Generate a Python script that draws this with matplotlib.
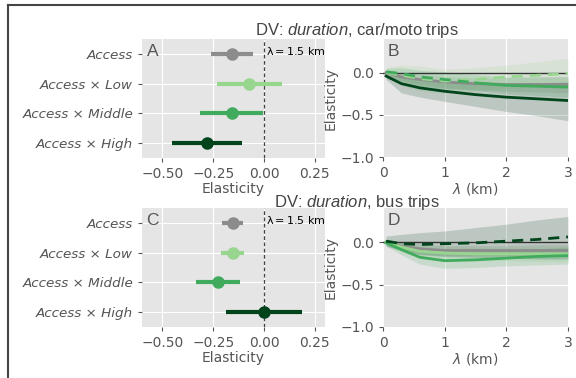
import numpy as np
import matplotlib
matplotlib.use("Agg")
import matplotlib.pyplot as plt
from matplotlib.lines import Line2D

# ---------------- data ----------------
categories = ["Access", "Access × Low", "Access × Middle", "Access × High"]
colors = ["#8c8c8c", "#98d68f", "#41ab5d", "#00441b"]

# Panel A (car/moto, lambda = 1.5 km)
a_est = [-0.158, -0.072, -0.158, -0.281]
a_lo = [-0.261, -0.229, -0.314, -0.452]
a_hi = [-0.055, 0.087, -0.006, -0.109]

# Panel C (bus, lambda = 1.5 km)
c_est = [-0.153, -0.153, -0.224, 0.0]
c_lo = [-0.207, -0.212, -0.333, -0.188]
c_hi = [-0.101, -0.098, -0.118, 0.185]

lam = [0.05, 0.3, 0.6, 1.0, 1.5, 2.0, 2.5, 3.0]

# Panel B (car/moto) curves
b_access_est = [0.0, -0.05, -0.08, -0.11, -0.13, -0.14, -0.14, -0.14]
b_access_lo = [-0.04, -0.10, -0.14, -0.18, -0.20, -0.22, -0.23, -0.24]
b_access_hi = [0.04, 0.0, -0.02, -0.04, -0.06, -0.06, -0.05, -0.04]
b_access_sig = [1, 1, 1, 1, 1, 1, 1, 1]

b_low_est = [0.0, -0.03, -0.07, -0.10, -0.08, -0.05, -0.03, -0.01]
b_low_lo = [-0.06, -0.15, -0.22, -0.24, -0.22, -0.19, -0.18, -0.19]
b_low_hi = [0.06, 0.09, 0.08, 0.04, 0.06, 0.09, 0.13, 0.17]
b_low_sig = [0, 0, 0, 0, 0, 0, 0, 0]

b_mid_est = [0.01, -0.01, -0.05, -0.08, -0.12, -0.15, -0.16, -0.17]
b_mid_lo = [-0.03, -0.10, -0.16, -0.19, -0.21, -0.25, -0.27, -0.29]
b_mid_hi = [0.05, 0.06, 0.03, 0.01, -0.02, -0.05, -0.05, -0.05]
b_mid_sig = [0, 0, 0, 0, 1, 1, 1, 1]

b_high_est = [-0.04, -0.13, -0.18, -0.22, -0.26, -0.29, -0.31, -0.33]
b_high_lo = [-0.08, -0.24, -0.29, -0.34, -0.40, -0.46, -0.51, -0.57]
b_high_hi = [-0.01, -0.05, -0.08, -0.10, -0.12, -0.13, -0.12, -0.11]
b_high_sig = [1, 1, 1, 1, 1, 1, 1, 1]

# Panel D (bus) curves
d_access_est = [-0.01, -0.05, -0.08, -0.10, -0.10, -0.10, -0.10, -0.10]
d_access_lo = [-0.04, -0.10, -0.14, -0.16, -0.16, -0.16, -0.17, -0.17]
d_access_hi = [0.02, 0.0, -0.02, -0.04, -0.04, -0.04, -0.03, -0.03]
d_access_sig = [1, 1, 1, 1, 1, 1, 1, 1]

d_low_est = [0.0, -0.06, -0.11, -0.13, -0.14, -0.14, -0.14, -0.14]
d_low_lo = [-0.04, -0.12, -0.18, -0.21, -0.22, -0.22, -0.23, -0.23]
d_low_hi = [0.04, 0.0, -0.04, -0.05, -0.06, -0.06, -0.05, -0.05]
d_low_sig = [1, 1, 1, 1, 1, 1, 1, 1]

d_mid_est = [-0.01, -0.09, -0.18, -0.22, -0.21, -0.19, -0.17, -0.16]
d_mid_lo = [-0.05, -0.15, -0.26, -0.31, -0.30, -0.28, -0.27, -0.26]
d_mid_hi = [0.03, -0.03, -0.10, -0.13, -0.12, -0.10, -0.08, -0.06]
d_mid_sig = [1, 1, 1, 1, 1, 1, 1, 1]

d_high_est = [0.01, -0.02, -0.03, -0.02, -0.01, 0.01, 0.03, 0.06]
d_high_lo = [-0.05, -0.10, -0.15, -0.17, -0.18, -0.19, -0.20, -0.20]
d_high_hi = [0.07, 0.09, 0.11, 0.13, 0.17, 0.21, 0.26, 0.30]
d_high_sig = [0, 0, 0, 0, 0, 0, 0, 0]

titles = ["car/moto trips", "bus trips"]
panel_letters = ["A", "B", "C", "D"]

# ---------------- style ----------------
plt.style.use("ggplot")
plt.rcParams["font.family"] = ["DejaVu Sans"]
plt.rcParams["mathtext.fontset"] = "dejavusans"
plt.rcParams["mathtext.rm"] = "Liberation Sans"
plt.rcParams["mathtext.it"] = "Liberation Sans:italic"
plt.rcParams["mathtext.bf"] = "Liberation Sans:bold"
GRAY = "#555555"

fig = plt.figure(figsize=(5.76, 3.78), dpi=100)
fig.patch.set_facecolor("white")

W, H = 576.0, 378.0
def ax_rect(l, r, t, b):
    return [l / W, 1 - b / H, (r - l) / W, (b - t) / H]

axA = fig.add_axes(ax_rect(142, 325, 39, 158))
axB = fig.add_axes(ax_rect(383, 568, 39, 157))
axC = fig.add_axes(ax_rect(142, 325, 208, 327))
axD = fig.add_axes(ax_rect(383, 568, 208, 327))


def style_ax(ax):
    ax.set_facecolor("#E5E5E5")
    ax.grid(True, color="white", lw=0.8)
    for s in ax.spines.values():
        s.set_visible(False)
    ax.tick_params(colors=GRAY, labelsize=10, length=3, width=0.8)


def coef_panel(ax, est, lo, hi, letter):
    style_ax(ax)
    y = np.arange(len(categories))
    for i in range(len(categories)):
        ax.plot([lo[i], hi[i]], [y[i], y[i]], color=colors[i], lw=3,
                solid_capstyle="butt", zorder=3)
        ax.plot(est[i], y[i], "o", color=colors[i], ms=8, zorder=4)
    ax.axvline(0, color="#444444", lw=0.9, ls=(0, (3, 2)), zorder=2)
    ax.set_xlim(-0.6, 0.3)
    ax.set_ylim(3.5, -0.5)
    ax.set_yticks(y)
    ax.set_yticklabels(categories, fontstyle="italic", fontsize=9.7)
    ax.set_xticks([-0.5, -0.25, 0.0, 0.25])
    ax.set_xticklabels(["−0.50", "−0.25", "0.00", "0.25"])
    ax.set_xlabel("Elasticity", color=GRAY, fontsize=10, labelpad=1)
    ax.text(0.025, 0.96, letter, transform=ax.transAxes, ha="left", va="top",
            color=GRAY, fontsize=12.5, family="Liberation Sans")
    ax.text(0.008, 0.95, r"$\mathregular{\lambda = 1.5}$ km",
            transform=ax.get_xaxis_transform(), ha="left", va="top",
            fontsize=8, color="black")


def draw_curve(ax, x, est, lo, hi, sig, color):
    x = np.asarray(x); est = np.asarray(est); sig = np.asarray(sig)
    ax.fill_between(x, lo, hi, color=color, alpha=0.18, lw=0, zorder=2)
    n = len(x)
    i = 0
    while i < n - 1:
        solid = bool(sig[i] and sig[i + 1])
        j = i + 1
        while j < n - 1 and bool(sig[j] and sig[j + 1]) == solid:
            j += 1
        ax.plot(x[i:j + 1], est[i:j + 1], color=color, lw=2,
                ls="-" if solid else (0, (4, 2.5)), zorder=4)
        i = j


def curve_panel(ax, series, letter):
    style_ax(ax)
    ax.axhline(0, color="#333333", lw=1, zorder=3)
    for (est, lo, hi, sig), col in zip(series, colors):
        draw_curve(ax, lam, est, lo, hi, sig, col)
    ax.set_xlim(0, 3)
    ax.set_ylim(-1.0, 0.4)
    ax.set_xticks([0, 1, 2, 3])
    ax.set_yticks([-1.0, -0.5, 0.0])
    ax.set_yticklabels(["−1.0", "−0.5", "0.0"])
    ax.set_xlabel(r"$\lambda$ (km)", color=GRAY, fontsize=10, labelpad=1)
    ax.set_ylabel("Elasticity", color=GRAY, fontsize=10, labelpad=2)
    ax.text(0.025, 0.96, letter, transform=ax.transAxes, ha="left", va="top",
            color=GRAY, fontsize=12.5, family="Liberation Sans")


coef_panel(axA, a_est, a_lo, a_hi, panel_letters[0])
coef_panel(axC, c_est, c_lo, c_hi, panel_letters[2])

curve_panel(axB, [
    (b_access_est, b_access_lo, b_access_hi, b_access_sig),
    (b_low_est, b_low_lo, b_low_hi, b_low_sig),
    (b_mid_est, b_mid_lo, b_mid_hi, b_mid_sig),
    (b_high_est, b_high_lo, b_high_hi, b_high_sig),
], panel_letters[1])
curve_panel(axD, [
    (d_access_est, d_access_lo, d_access_hi, d_access_sig),
    (d_low_est, d_low_lo, d_low_hi, d_low_sig),
    (d_mid_est, d_mid_lo, d_mid_hi, d_mid_sig),
    (d_high_est, d_high_lo, d_high_hi, d_high_sig),
], panel_letters[3])

# row titles
for ttl, ypx in zip(titles, [31, 202]):
    fig.text(357 / W, 1 - ypx / H,
             r"DV: $\mathit{duration}$, " + ttl,
             ha="center", va="center", fontsize=12, color="#444444",
             family="Liberation Sans", math_fontfamily="custom")

# frame lines (top and left)
fig.add_artist(Line2D([7.5 / W, 1], [1 - 5 / H, 1 - 5 / H], color="#444444",
                      lw=1.5, transform=fig.transFigure))
fig.add_artist(Line2D([7.5 / W, 7.5 / W], [0, 1 - 5 / H], color="#444444",
                      lw=1.5, transform=fig.transFigure))

fig.savefig("out.png", dpi=100, facecolor="white")
